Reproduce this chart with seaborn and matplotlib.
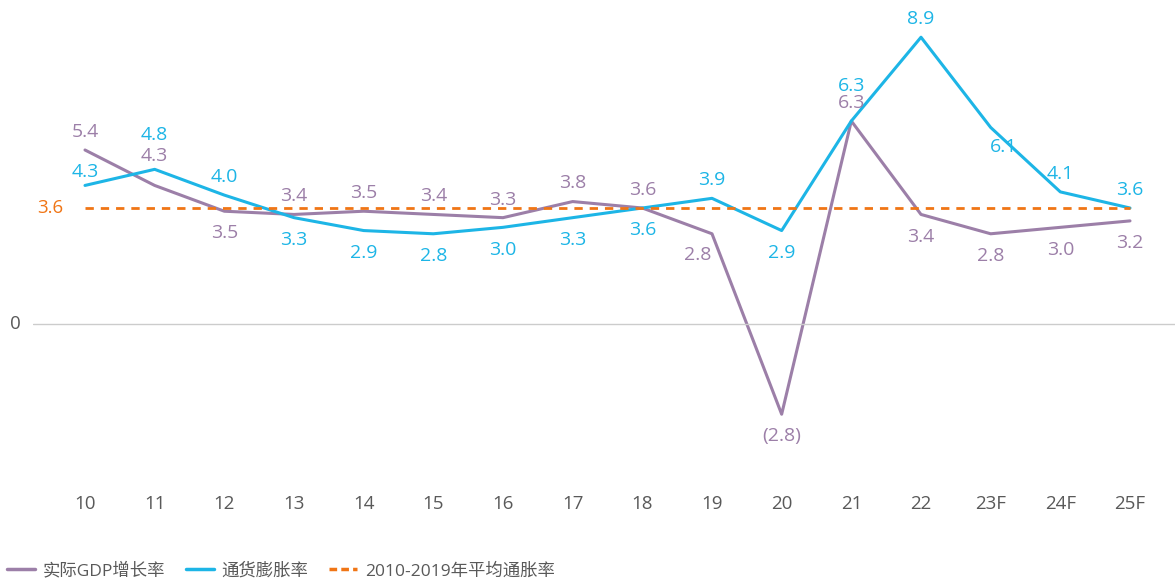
import numpy as np
import pandas as pd
import matplotlib.pyplot as plt
import seaborn as sns

years = ['10', '11', '12', '13', '14', '15', '16', '17', '18', '19', '20', '21', '22', '23F', '24F', '25F']
gdp = [5.4, 4.3, 3.5, 3.4, 3.5, 3.4, 3.3, 3.8, 3.6, 2.8, -2.8, 6.3, 3.4, 2.8, 3.0, 3.2]
cpi = [4.3, 4.8, 4.0, 3.3, 2.9, 2.8, 3.0, 3.3, 3.6, 3.9, 2.9, 6.3, 8.9, 6.1, 4.1, 3.6]
avg_cpi = 3.6

gdp_name = '实际GDP增长率'
cpi_name = '通货膨胀率'
avg_name = '2010-2019年平均通胀率'

# label placement: 'a' above, 'b' below, 'a2'/'a3' higher above
gdp_pos = ['a', 'a2', 'b', 'a', 'a', 'a', 'a', 'a', 'a', 'bl', 'b', 'a', 'b', 'b', 'b', 'b']
cpi_pos = ['a', 'a3', 'a', 'b', 'b', 'b', 'b', 'b', 'b', 'a', 'b', 'a3', 'a', 'br', 'a', 'a']

c_gdp = '#9C7FA8'
c_cpi = '#1DB5E6'
c_avg = '#F07515'
c_txt = '#595959'

sns.set_style('white')
plt.rcParams['font.family'] = ['Open Sans', 'Noto Sans CJK SC', 'DejaVu Sans']

df = pd.DataFrame({
    'x': list(range(len(years))) * 2,
    'value': gdp + cpi,
    'series': [gdp_name] * len(years) + [cpi_name] * len(years),
})

fig = plt.figure(figsize=(11.75, 5.79), dpi=100)
ax = fig.add_axes([33 / 1175, 99 / 579, 1142 / 1175, 480 / 579])

sns.lineplot(data=df, x='x', y='value', hue='series', palette=[c_gdp, c_cpi],
             sort=False, linewidth=2.2, ax=ax, legend=False)
ax.axhline(0, color='#CCCCCC', linewidth=1)
ax.plot([0, len(years) - 1], [avg_cpi, avg_cpi], color=c_avg,
        linestyle=(0, (3, 2.5)), linewidth=2)

sp = 1045 / 15
ax.set_xlim(-52 / sp, 15 + 45 / sp)
ppu = 116 / 3.6
ax.set_ylim(-156 / ppu, 324 / ppu)

for s in ax.spines.values():
    s.set_visible(False)
ax.set_xticks(range(len(years)))
ax.set_xticklabels(years, fontsize=13.5, color=c_txt)
ax.tick_params(axis='x', length=0, pad=11)
ax.set_yticks([])
ax.set_xlabel('')
ax.set_ylabel('')

ax.text(-1.0, 0, '0', color=c_txt, fontsize=13.5, ha='center', va='center', clip_on=False)
ax.text(-0.5, avg_cpi, f'{avg_cpi:.1f}', color=c_avg, fontsize=13.5, ha='center', va='center')


def fmt(v):
    return f'({abs(v):.1f})' if v < 0 else f'{v:.1f}'


offs = {'a': (0, 13), 'b': (0, -16), 'a2': (0, 21), 'a3': (0, 25),
        'bl': (-10, -15), 'br': (9, -14)}
for i, (v, p) in enumerate(zip(gdp, gdp_pos)):
    ax.annotate(fmt(v), (i, v), xytext=offs[p], textcoords='offset points',
                ha='center', va='center', fontsize=14, color=c_gdp)
for i, (v, p) in enumerate(zip(cpi, cpi_pos)):
    o = (0, 10) if i == 0 else offs[p]
    ax.annotate(fmt(v), (i, v), xytext=o, textcoords='offset points',
                ha='center', va='center', fontsize=14, color=c_cpi)

handles = [
    plt.Line2D([], [], color=c_gdp, linewidth=2.5),
    plt.Line2D([], [], color=c_cpi, linewidth=2.5),
    plt.Line2D([], [], color=c_avg, linewidth=2.5, linestyle=(0, (2.2, 1.2))),
]
fig.legend(handles, [gdp_name, cpi_name, avg_name], loc='center left',
           bbox_to_anchor=(0.0, 1 - 571 / 579), ncol=3, frameon=False, fontsize=12.5,
           labelcolor=c_txt, handlelength=1.6, handletextpad=0.45, columnspacing=1.2,
           borderpad=0.2, borderaxespad=0.2)

fig.savefig('out.png', dpi=100)
